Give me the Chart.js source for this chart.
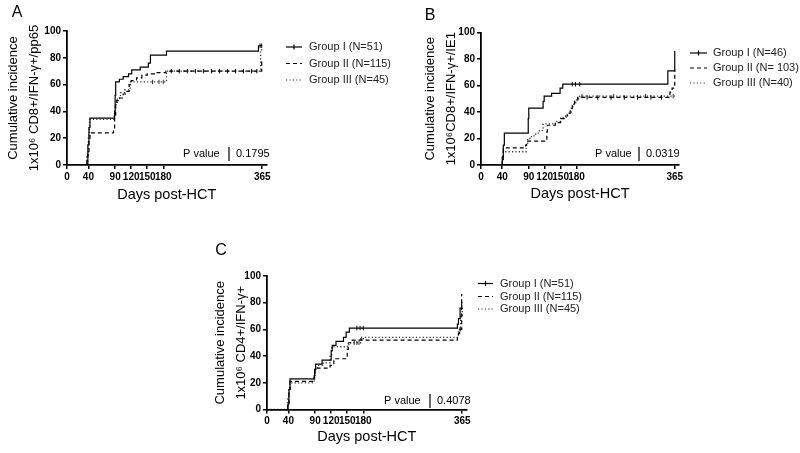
<!DOCTYPE html>
<html>
<head>
<meta charset="utf-8">
<script src="https://cdn.jsdelivr.net/npm/chart.js@4.4.1/dist/chart.umd.min.js"></script>
<style>
    html, body { margin: 0; padding: 0; background: #fff; }
    #wrap { position: relative; width: 800px; height: 453px; overflow: hidden; }
    #wrap canvas { position: absolute; }
</style>
</head>
<body>
<div id="wrap">
    <canvas id="chartA" width="400" height="220" style="left:0;top:0"></canvas>
    <canvas id="chartB" width="400" height="220" style="left:400px;top:0"></canvas>
    <canvas id="chartC" width="400" height="233" style="left:200px;top:220px"></canvas>
</div>
<script>
(function () {

    var xTicks = [0, 40, 90, 120, 150, 180, 365];
    var xTitle = "Days post-HCT";

    // panel A - CD8+/IFN-g+/pp65
    var aDays1 = [0, 37, 39, 41, 43, 89, 90, 91, 98, 105, 115, 121, 137, 152, 156, 186, 358, 365];
    var aVals1 = [0, 3, 15, 28, 35, 40, 52, 62, 64, 66, 68, 71, 73, 76, 82, 85, 89, 89];
    var aCens1 = [361, 364];
    var aDays2 = [0, 39, 41, 43, 87, 89, 91, 93, 98, 105, 112, 116, 120, 130, 140, 150, 165, 185, 364, 365];
    var aVals2 = [0, 8, 18, 24, 27, 35, 45, 48, 50, 53, 55, 60, 63, 65, 67, 68, 69, 70, 77, 77];
    var aCens2 = [195, 210, 225, 240, 255, 270, 285, 300, 315, 330, 345, 355];
    var aDays3 = [0, 37, 40, 42, 88, 90, 94, 100, 108, 118, 186, 362, 365];
    var aVals3 = [0, 6, 22, 34, 38, 45, 50, 54, 56, 62, 70, 86, 86];
    var aCens3 = [160, 172, 180];
    var aLabels = ["Group I (N=51)", "Group II (N=115)", "Group III (N=45)"];
    var aTitle = ["Cumulative incidence", "1x10\u2076 CD8+/IFN-\u03b3+/pp65"];

    // panel B - CD8+/IFN-g+/IE1
    var bDays1 = [0, 40, 42, 44, 89, 90, 117, 119, 133, 149, 154, 352, 365];
    var bVals1 = [0, 4, 15, 24, 35, 43, 48, 52, 54, 58, 61, 71, 86];
    var bCens1 = [172, 178, 186];
    var bDays2 = [0, 40, 42, 84, 86, 124, 125, 140, 150, 157, 163, 168, 172, 176, 182, 356, 360, 365];
    var bVals2 = [0, 6, 13, 15, 18, 25, 30, 32, 35, 37, 39, 42, 45, 48, 51, 55, 58, 72];
    var bCens2 = [200, 220, 245, 270, 295, 320, 340];
    var bDays3 = [0, 40, 42, 85, 88, 95, 103, 110, 117, 140, 150, 160, 166, 170, 175, 180, 186, 365];
    var bVals3 = [0, 5, 10, 15, 20, 22, 24, 26, 31, 33, 36, 38, 40, 44, 47, 50, 52, 52];
    var bCens3 = [190, 250, 310, 362];
    var bLabels = ["Group I (N=46)", "Group II (N= 103)", "Group III (N=40)"];
    var bTitle = ["Cumulative incidence", "1x10\u2076CD8+/IFN-\u03b3+/IE1"];

    // panel C - CD4+/IFN-g+
    var cDays1 = [0, 39, 41, 43, 89, 91, 103, 120, 122, 129, 143, 148, 154, 356, 358, 361, 364, 365];
    var cVals1 = [0, 4, 15, 23, 30, 34, 37, 44, 48, 51, 54, 58, 61, 64, 68, 76, 80, 80];
    var cCens1 = [168, 174, 180];
    var cDays2 = [0, 39, 41, 43, 88, 90, 118, 125, 150, 152, 158, 356, 358, 360, 364, 365];
    var cVals2 = [0, 5, 15, 21, 25, 31, 33, 38, 45, 50, 52, 55, 57, 60, 86, 86];
    var cCens2 = [361];
    var cDays3 = [0, 39, 41, 43, 88, 90, 95, 105, 118, 121, 150, 153, 175, 180, 358, 362, 365];
    var cVals3 = [0, 8, 16, 20, 25, 30, 33, 35, 40, 47, 48, 50, 53, 54, 60, 70, 78];
    var cCens3 = [163, 168, 172, 177];
    var cLabels = ["Group I (N=51)", "Group II (N=115)", "Group III (N=45)"];
    var cTitle = ["Cumulative incidence", "1x10\u2076 CD4+/IFN-\u03b3+"];

    var pValues = ["0.1795", "0.0319", "0.4078"];

    var FONT = "'Liberation Sans', Arial, sans-serif";
    // line looks for group I, II, III
    var dashes = [[], [4, 3], [1.2, 2.2]];
    var colors = ["#000", "#000", "#333"];

    Chart.defaults.font.family = FONT;
    Chart.defaults.color = "#000";

    // merge event steps and censor marks into one point list
    function buildSeries(days, vals, cens) {
        var pts = days.map(function (d, i) { return { x: d, y: vals[i] }; });
        cens.forEach(function (c) {
            var v = 0;
            for (var i = 0; i < days.length; i++) {
                if (days[i] <= c) { v = vals[i]; }
            }
            pts.push({ x: c, y: v, c: true });
        });
        pts.sort(function (p, q) { return p.x - q.x || (p.c ? 1 : -1); });
        return pts;
    }

    function makeDataset(label, pts, k) {
        return {
            label: label,
            data: pts,
            stepped: true,
            borderColor: colors[k],
            borderWidth: k === 2 ? 1.3 : 1.2,
            borderDash: dashes[k],
            fill: false,
            pointStyle: "line",
            rotation: 90,
            pointBorderColor: colors[k],
            pointBorderWidth: 1,
            pointRadius: function (ctx) { return ctx.raw && ctx.raw.c ? 2.2 : 0; },
            pointHoverRadius: 0
        };
    }

    function makePanel(p) {
        var titleLH = 21;
        var padLeft = p.yTitleX - p.box.x - titleLH / 2 - 2;
        var yWidth = p.area.l - p.box.x - padLeft;
        var xLH = 14.5 * 1.2;
        var xHeight = p.xTitleY - p.area.b + xLH / 2;

        var annot = {
            id: "annot" + p.id,
            afterDraw: function (chart) {
                var ctx = chart.ctx;
                var ox = p.box.x, oy = p.box.y;
                ctx.save();
                ctx.fillStyle = "#000";
                ctx.textBaseline = "middle";

                // panel letter
                ctx.font = "16px " + FONT;
                ctx.textAlign = "center";
                ctx.fillText(p.letter, p.letterX - ox, p.letterY - oy);

                // legend
                ctx.font = "11px " + FONT;
                ctx.textAlign = "left";
                p.labels.forEach(function (lab, k) {
                    var y = p.legRows[k] - oy;
                    ctx.strokeStyle = colors[k];
                    ctx.lineWidth = 1.2;
                    ctx.setLineDash(dashes[k]);
                    ctx.beginPath();
                    ctx.moveTo(p.legX0 - ox, y);
                    ctx.lineTo(p.legX1 - ox, y);
                    ctx.stroke();
                    ctx.setLineDash([]);
                    if (k === 0) {
                        ctx.beginPath();
                        ctx.moveTo((p.legX0 + p.legX1) / 2 - ox, y - 2.5);
                        ctx.lineTo((p.legX0 + p.legX1) / 2 - ox, y + 2.5);
                        ctx.stroke();
                    }
                    ctx.fillStyle = "#222";
                    ctx.fillText(lab, p.legText - ox, y);
                });

                // P value box
                ctx.fillStyle = "#000";
                ctx.font = "11px " + FONT;
                ctx.fillText("P value", p.pvX - ox, p.pvY - oy);
                ctx.fillText(p.pv, p.pvValX - ox, p.pvY - oy);
                ctx.strokeStyle = "#000";
                ctx.lineWidth = 1.2;
                ctx.beginPath();
                ctx.moveTo(p.pvBarX - ox, p.pvY - oy - 7);
                ctx.lineTo(p.pvBarX - ox, p.pvY - oy + 7);
                ctx.stroke();
                ctx.restore();
            }
        };

        var tickFont = { family: FONT, size: 10, weight: "bold" };

        return new Chart(document.getElementById(p.id).getContext("2d"), {
            type: "line",
            data: {
                datasets: p.series.map(function (s, k) {
                    return makeDataset(p.labels[k], buildSeries(s[0], s[1], s[2]), k);
                })
            },
            options: {
                responsive: false,
                animation: false,
                events: [],
                layout: {
                    padding: {
                        left: padLeft,
                        top: p.area.t - p.box.y,
                        right: p.box.x + p.box.w - p.area.r,
                        bottom: p.box.y + p.box.h - p.area.b - xHeight
                    }
                },
                plugins: {
                    legend: { display: false },
                    tooltip: { enabled: false }
                },
                scales: {
                    x: {
                        type: "linear",
                        min: 0,
                        max: 373,
                        afterBuildTicks: function (scale) {
                            scale.ticks = xTicks.map(function (v) { return { value: v }; });
                        },
                        afterFit: function (scale) { scale.height = xHeight; },
                        grid: { display: true, drawOnChartArea: false, drawTicks: true, tickLength: 4, color: "#000", lineWidth: 1.5 },
                        border: { display: true, color: "#000", width: 1.8 },
                        ticks: { color: "#000", font: tickFont, padding: 2, maxRotation: 0, autoSkip: false },
                        title: { display: true, text: xTitle, color: "#000", font: { family: FONT, size: 14.5 }, padding: { top: 0, bottom: 0 } }
                    },
                    y: {
                        min: 0,
                        max: 100,
                        afterFit: function (scale) { scale.width = yWidth; },
                        grid: { display: true, drawOnChartArea: false, drawTicks: true, tickLength: 4, color: "#000", lineWidth: 1.5 },
                        border: { display: true, color: "#000", width: 1.8 },
                        ticks: { color: "#000", font: tickFont, padding: 2, stepSize: 20 },
                        title: { display: true, text: p.yTitle, color: "#000", font: { family: FONT, size: 13, lineHeight: titleLH + "px" }, padding: { top: 2, bottom: 0 } }
                    }
                }
            },
            plugins: [annot]
        });
    }

    makePanel({
        id: "chartA", letter: "A", letterX: 17, letterY: 13,
        box: { x: 0, y: 0, w: 400, h: 220 },
        area: { l: 67, t: 31, r: 266.5, b: 165 },
        yTitleX: 13, xTitleY: 195,
        series: [[aDays1, aVals1, aCens1], [aDays2, aVals2, aCens2], [aDays3, aVals3, aCens3]],
        labels: aLabels, yTitle: aTitle,
        legX0: 286, legX1: 302, legText: 309, legRows: [47, 63.5, 80],
        pv: pValues[0], pvX: 183, pvY: 154, pvBarX: 229, pvValX: 236
    });

    makePanel({
        id: "chartB", letter: "B", letterX: 430, letterY: 16,
        box: { x: 400, y: 0, w: 400, h: 220 },
        area: { l: 481, t: 32.5, r: 679, b: 165 },
        yTitleX: 430, xTitleY: 194,
        series: [[bDays1, bVals1, bCens1], [bDays2, bVals2, bCens2], [bDays3, bVals3, bCens3]],
        labels: bLabels, yTitle: bTitle,
        legX0: 690, legX1: 707, legText: 713, legRows: [53, 68, 83],
        pv: pValues[1], pvX: 595, pvY: 154, pvBarX: 639, pvValX: 646
    });

    makePanel({
        id: "chartC", letter: "C", letterX: 221, letterY: 251,
        box: { x: 200, y: 220, w: 400, h: 233 },
        area: { l: 267, t: 276, r: 466.5, b: 409.5 },
        yTitleX: 220, xTitleY: 437,
        series: [[cDays1, cVals1, cCens1], [cDays2, cVals2, cCens2], [cDays3, cVals3, cCens3]],
        labels: cLabels, yTitle: cTitle,
        legX0: 478, legX1: 493, legText: 500, legRows: [283.5, 296.5, 309],
        pv: pValues[2], pvX: 384, pvY: 401, pvBarX: 430, pvValX: 437
    });

})();
</script>
</body>
</html>
